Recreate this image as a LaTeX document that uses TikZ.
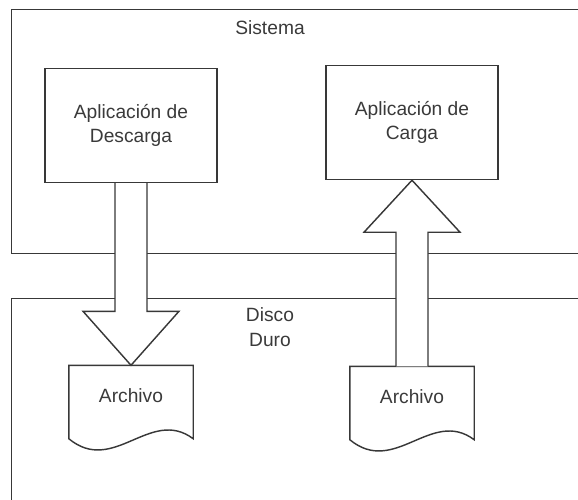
\documentclass[tikz,border=0pt]{standalone}
\usepackage{fontspec}
\setmainfont{Liberation Sans}
\usepackage{xcolor}
\usetikzlibrary{calc}

\definecolor{linegray}{HTML}{383838}
\definecolor{textgray}{HTML}{3A3A3A}

\begin{document}
\begin{tikzpicture}[x=0.5pt,y=-0.5pt,line width=0.72pt,
    zone/.style={draw=linegray,anchor=north west,minimum width=300pt,inner sep=0pt},
    lbl/.style={text=textgray,align=center,font=\fontsize{9.6}{12.4}\selectfont},
    app/.style={lbl,draw=linegray,fill=white,minimum width=86pt,minimum height=57pt,inner sep=0pt},
    doc/.style={lbl,minimum width=61.5pt,minimum height=36pt,inner sep=0pt,text height=7pt,text depth=7pt},
    docline/.style={draw=linegray},
    blockarrow/.style={draw=linegray,fill=white,line join=miter}]
    \useasboundingbox (0,0) rectangle (578,499);
    \clip (0,0) rectangle (578,499);

    % containers
    \node[zone,minimum height=122pt] (sistema) at (11,9) {};
    \node[zone,minimum height=120pt] (disco) at (11,298) {};
    \node[lbl] (tsistema) at (270,28) {Sistema};
    \node[lbl] (tdisco) at (270,327) {Disco\\Duro};

    % applications and files
    \node[app] (descarga) at (131,125.5) {Aplicación de\\Descarga};
    \node[app] (carga) at (412,122.5) {Aplicación de\\Carga};
    \node[doc] (arch1) at (131,402) {Archivo};
    \node[doc] (arch2) at (412,403) {Archivo};

    \draw[docline] (arch1.south east) -- (arch1.north east) -- (arch1.north west) -- (arch1.south west)
        .. controls ++(45,37) and ++(-43,-32) .. (arch1.south east) -- cycle;
    \draw[docline] (arch2.south east) -- (arch2.north east) -- (arch2.north west) -- (arch2.south west)
        .. controls ++(45,37) and ++(-43,-32) .. (arch2.south east) -- cycle;

    % block arrows
    \draw[blockarrow] ($(descarga.south)+(-16,0)$) -- ($(arch1.north)+(-16,-54)$) -- ($(arch1.north)+(-48,-54)$)
        -- (arch1.north) -- ($(arch1.north)+(48,-54)$) -- ($(arch1.north)+(16,-54)$) -- ($(descarga.south)+(16,0)$);
    \draw[blockarrow] ($(arch2.north)+(-16,0)$) -- ($(carga.south)+(-16,52)$) -- ($(carga.south)+(-48,52)$)
        -- (carga.south) -- ($(carga.south)+(48,52)$) -- ($(carga.south)+(16,52)$) -- ($(arch2.north)+(16,0)$);
\end{tikzpicture}
\end{document}
